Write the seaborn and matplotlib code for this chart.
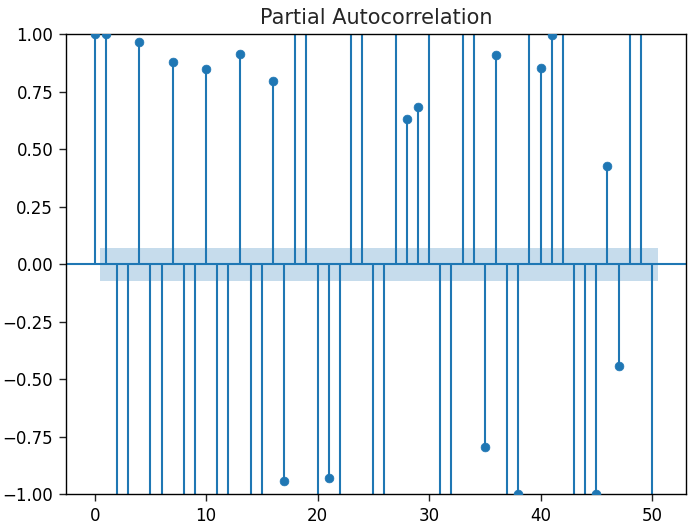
import numpy as np
import pandas as pd
import matplotlib
matplotlib.use("Agg")
import matplotlib.pyplot as plt
import seaborn as sns

# lags 0..50 and partial autocorrelation values (values beyond +/-1 are clipped off the view)
lags = list(range(51))
pacf_values = [
    1.000, 1.000, -1.60, -1.45, 0.967, -1.70, -1.35, 0.879, -1.55, -1.40,
    0.847, -1.65, -1.30, 0.913, -1.50, -1.25, 0.798, -0.943, 1.40, 1.55,
    -1.45, -0.930, -1.35, 1.30, 1.60, -1.40, -1.20, 1.25, 0.630, 0.683,
    1.45, -1.30, -1.50, 1.35, 1.20, -0.795, 0.909, -1.25, -1.000, 1.30,
    0.853, 0.998, 1.40, -1.35, -1.20, -1.000, 0.425, -0.442, 1.25, 1.50,
    -1.30,
]
conf_half_width = 0.0715
title = "Partial Autocorrelation"
ytick_values = [-1.0, -0.75, -0.5, -0.25, 0.0, 0.25, 0.5, 0.75, 1.0]
xtick_values = [0, 10, 20, 30, 40, 50]

df = pd.DataFrame({"lag": lags, "pacf": pacf_values})

sns.set_style("ticks")
plt.rcParams["font.family"] = ["DejaVu Sans"]
color = "#1f77b4"

fig = plt.figure(figsize=(6.93, 5.32), dpi=100)
ax = fig.add_axes([0.0948, 0.0709, 0.8951, 0.8651])

ax.vlines(df["lag"], 0, df["pacf"], colors=color, linewidth=1.5)
sns.scatterplot(data=df, x="lag", y="pacf", ax=ax, color=color, s=40,
                edgecolor=color, linewidth=0.5, zorder=3)
ax.axhline(0, color=color, linewidth=1.5)
band_x = np.array(df["lag"][1:], dtype=float)
band_x[0] -= 0.5
band_x[-1] += 0.5
ax.fill_between(band_x, -conf_half_width, conf_half_width, color=color,
                alpha=0.25, linewidth=0)

ax.set_xlim(-2.6, 53.05)
ax.set_ylim(-1.0, 1.0)
ax.set_yticks(ytick_values)
ax.set_yticklabels([f"{v:.2f}".replace("-", "\u2212") for v in ytick_values])
ax.set_xticks(xtick_values)
ax.set_xlabel("")
ax.set_ylabel("")
ax.set_title(title, fontsize=15, pad=7)
ax.tick_params(labelsize=12, length=5, width=1.0, colors="#222222",
               labelcolor="black", pad=4)
for s in ax.spines.values():
    s.set_visible(True)
    s.set_color("black")
    s.set_linewidth(1.0)

fig.savefig("out.png", dpi=100)
